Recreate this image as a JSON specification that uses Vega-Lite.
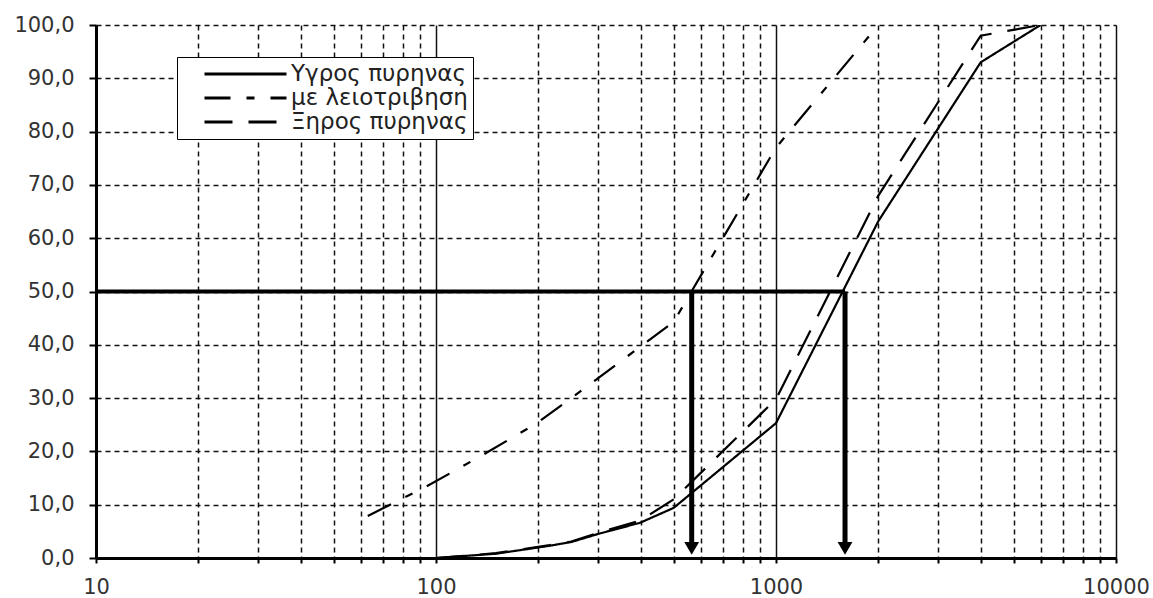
{
  "$schema": "https://vega.github.io/schema/vega-lite/v6.json",
  "autosize": "none",
  "width": 1020,
  "height": 533,
  "padding": {"left": 96, "top": 25, "right": 37, "bottom": 40},
  "background": "white",
  "datasets": {
    "curves": [
      {"s": "Υγρος πυρηνας", "d": 100, "p": 0},
      {"s": "Υγρος πυρηνας", "d": 150, "p": 0.8},
      {"s": "Υγρος πυρηνας", "d": 216, "p": 2.3},
      {"s": "Υγρος πυρηνας", "d": 250, "p": 3.0},
      {"s": "Υγρος πυρηνας", "d": 303, "p": 4.6},
      {"s": "Υγρος πυρηνας", "d": 398, "p": 6.6},
      {"s": "Υγρος πυρηνας", "d": 500, "p": 9.4},
      {"s": "Υγρος πυρηνας", "d": 1000, "p": 25.3},
      {"s": "Υγρος πυρηνας", "d": 2000, "p": 63.2},
      {"s": "Υγρος πυρηνας", "d": 4000, "p": 93},
      {"s": "Υγρος πυρηνας", "d": 6000, "p": 100},
      {"s": "με λειοτριβηση", "d": 63, "p": 7.9},
      {"s": "με λειοτριβηση", "d": 93, "p": 13.3},
      {"s": "με λειοτριβηση", "d": 137, "p": 19.3},
      {"s": "με λειοτριβηση", "d": 198, "p": 25.3},
      {"s": "με λειοτριβηση", "d": 250, "p": 30},
      {"s": "με λειοτριβηση", "d": 500, "p": 44.3},
      {"s": "με λειοτριβηση", "d": 1000, "p": 77},
      {"s": "με λειοτριβηση", "d": 2000, "p": 100},
      {"s": "Ξηρος πυρηνας", "d": 100, "p": 0},
      {"s": "Ξηρος πυρηνας", "d": 150, "p": 0.9},
      {"s": "Ξηρος πυρηνας", "d": 216, "p": 2.4},
      {"s": "Ξηρος πυρηνας", "d": 250, "p": 3.1},
      {"s": "Ξηρος πυρηνας", "d": 303, "p": 4.8},
      {"s": "Ξηρος πυρηνας", "d": 398, "p": 7.0},
      {"s": "Ξηρος πυρηνας", "d": 500, "p": 11},
      {"s": "Ξηρος πυρηνας", "d": 1000, "p": 29.8},
      {"s": "Ξηρος πυρηνας", "d": 2000, "p": 68},
      {"s": "Ξηρος πυρηνας", "d": 4000, "p": 98},
      {"s": "Ξηρος πυρηνας", "d": 6000, "p": 100}
    ],
    "hline": [{"d": 10, "d2": 1596, "p": 50}],
    "vlines": [
      {"d": 565, "p": 50, "p2": 2},
      {"d": 1596, "p": 50, "p2": 2}
    ],
    "heads": [
      {"d": 565, "p": 1.8},
      {"d": 1596, "p": 1.8}
    ]
  },
  "config": {
    "view": {"stroke": null},
    "font": "DejaVu Sans",
    "axis": {
      "labelFont": "DejaVu Sans",
      "labelFontSize": 21,
      "labelColor": "#333",
      "title": null,
      "domainColor": "black",
      "domainWidth": 3,
      "tickColor": "black",
      "tickWidth": 2,
      "gridColor": "#111",
      "gridWidth": 1.5,
      "gridOpacity": 1
    }
  },
  "layer": [
    {
      "data": {"name": "curves"},
      "mark": {"type": "line", "color": "black", "strokeWidth": 2.2, "clip": true},
      "encoding": {
        "x": {
          "field": "d",
          "type": "quantitative",
          "scale": {"type": "log", "domain": [10, 10000], "nice": false},
          "axis": {
            "values": [10,20,30,40,50,60,70,80,90,100,200,300,400,500,600,700,800,900,1000,2000,3000,4000,5000,6000,7000,8000,9000,10000],
            "labelExpr": "indexof([10,100,1000,10000], datum.value) >= 0 ? format(datum.value, 'd') : ''",
            "labelOverlap": false,
            "labelFlush": false,
            "labelPadding": 13,
            "tickSize": 5,
            "grid": true,
            "gridDash": {"condition": {"test": "indexof([100,1000,10000], datum.value) >= 0", "value": [1, 0]}, "value": [5, 4]}
          }
        },
        "y": {
          "field": "p",
          "type": "quantitative",
          "scale": {"domain": [0, 100], "nice": false},
          "axis": {
            "values": [0,10,20,30,40,50,60,70,80,90,100],
            "labelExpr": "replace(format(datum.value, '.1f'), '.', ',')",
            "labelPadding": 15,
            "tickSize": 7,
            "grid": true,
            "gridDash": [5, 4]
          }
        },
        "strokeDash": {
          "field": "s",
          "type": "nominal",
          "scale": {
            "domain": ["Υγρος πυρηνας", "με λειοτριβηση", "Ξηρος πυρηνας"],
            "range": [[1, 0], [26, 16, 8, 16], [28, 16]]
          },
          "legend": {
            "orient": "none",
            "legendX": 81,
            "legendY": 32,
            "title": null,
            "symbolType": "stroke",
            "symbolSize": 6724,
            "symbolStrokeWidth": 2.8,
            "symbolStrokeColor": "black",
            "labelFont": "DejaVu Sans",
            "labelFontSize": 23,
            "labelColor": "#222",
            "labelLimit": 400,
            "labelOffset": 3,
            "strokeColor": "black",
            "fillColor": "white",
            "padding": 5,
            "symbolOffset": 21,
            "clipHeight": 24,
            "rowPadding": 0
          }
        }
      }
    },
    {
      "data": {"name": "hline"},
      "mark": {"type": "rule", "color": "black", "strokeWidth": 4},
      "encoding": {
        "x": {"field": "d", "type": "quantitative"},
        "x2": {"field": "d2"},
        "y": {"field": "p", "type": "quantitative"}
      }
    },
    {
      "data": {"name": "vlines"},
      "mark": {"type": "rule", "color": "black", "strokeWidth": 5},
      "encoding": {
        "x": {"field": "d", "type": "quantitative"},
        "y": {"field": "p", "type": "quantitative"},
        "y2": {"field": "p2"}
      }
    },
    {
      "data": {"name": "heads"},
      "mark": {"type": "point", "shape": "triangle-down", "filled": true, "color": "black", "size": 220, "opacity": 1},
      "encoding": {
        "x": {"field": "d", "type": "quantitative"},
        "y": {"field": "p", "type": "quantitative"}
      }
    }
  ]
}
